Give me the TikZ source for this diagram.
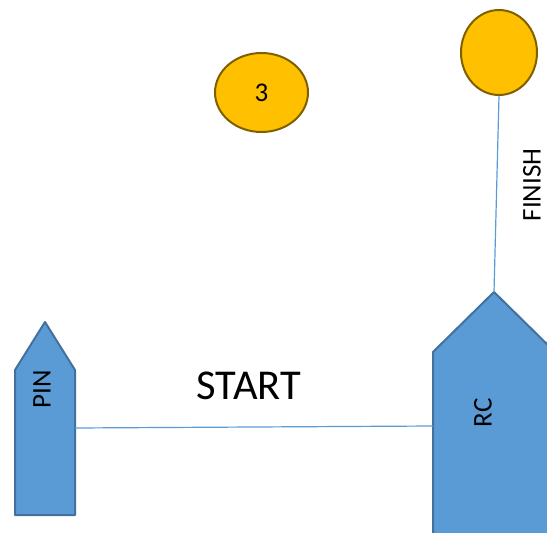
\documentclass[tikz,border=0pt]{standalone}
\usepackage{fontspec}
\setmainfont{Carlito}
\usetikzlibrary{shapes.geometric}
\definecolor{boatfill}{HTML}{5B9BD5}
\definecolor{boatline}{HTML}{41719C}
\definecolor{buoyfill}{HTML}{FFC000}
\definecolor{buoyline}{HTML}{7F6000}
\tikzset{
    boat/.style={fill=boatfill, draw=boatline, line width=2pt, line join=round},
    buoy/.style={ellipse, fill=buoyfill, draw=buoyline, line width=2pt, inner sep=0pt},
    course/.style={draw=boatfill, line width=1.2pt},
    tag/.style={font=\fontsize{27}{30}\selectfont, inner sep=0pt}
}
\begin{document}
\begin{tikzpicture}[x=1pt,y=-1pt]
        \clip (0,0) rectangle (547,533);
        % boats
        \draw [boat] (15,515)-- (15,370)-- (45,322)-- (75,370)-- (75,515)-- cycle;
        \draw [boat] (433,545)-- (433,352)-- (494,292)-- (555,352)-- (555,545)-- cycle;
        \coordinate (pin) at (75,428);
        \coordinate (rc) at (433,426);
        \coordinate (rctip) at (494,292);
        \node [tag, rotate=90] (pintag) at (42,389) {PIN};
        \node [tag, rotate=90] (rctag) at (483,413) {RC};
        % marks
        \node [buoy, minimum width=93pt, minimum height=79pt, tag] (buoy3) at (261.5,92.5) {3};
        \node [buoy, minimum width=76pt, minimum height=85pt] (finbuoy) at (499,52.5) {};
        % lines
        \draw [course] (pin)-- (rc);
        \draw [course] (finbuoy.south)-- (rctip);
        \node [font=\fontsize{42.5}{45}\selectfont, inner sep=0pt] (start) at (249,386) {START};
        \node [tag, rotate=90] (finish) at (532,185) {FINISH};
    \end{tikzpicture}
\end{document}
